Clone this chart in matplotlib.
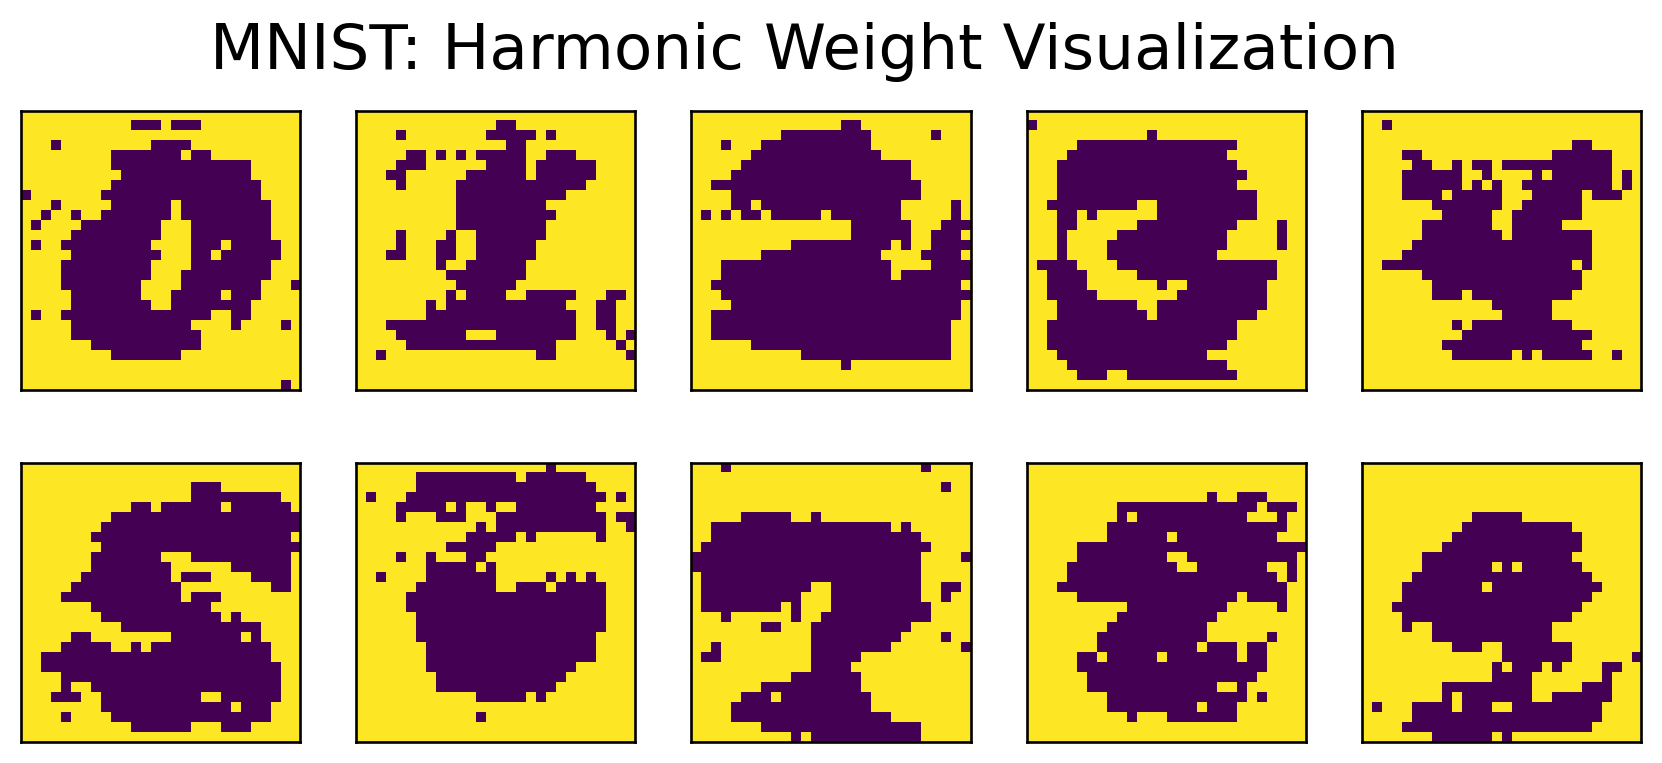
import numpy as np
import matplotlib
matplotlib.use("Agg")
import matplotlib.pyplot as plt

# dark cell runs for each row of the weight maps: (start, stop) in columns, row index is the key
w0 = {1: [(11, 14), (15, 18)], 3: [(3, 4), (13, 17)], 4: [(9, 16), (17, 19)], 5: [(9, 23)], 6: [(10, 23)],
      7: [(9, 24)], 8: [(0, 1), (8, 24)], 9: [(3, 4), (9, 15), (16, 25)], 10: [(2, 3), (5, 6), (8, 15), (16, 25)],
      11: [(1, 2), (6, 14), (17, 25)], 12: [(5, 14), (17, 25)], 13: [(1, 2), (4, 13), (17, 20), (21, 26)],
      14: [(5, 14), (17, 19), (20, 26)], 15: [(4, 13), (17, 25)], 16: [(4, 13), (16, 25)],
      17: [(4, 12), (16, 24), (27, 28)], 18: [(5, 12), (15, 20), (21, 24)], 19: [(5, 13), (15, 23)],
      20: [(1, 2), (4, 19), (21, 23)], 21: [(5, 17), (21, 22), (26, 27)], 22: [(5, 18)], 23: [(7, 18)],
      24: [(9, 16)], 27: [(26, 27)]}
w1 = {1: [(14, 16)], 2: [(4, 5), (13, 18), (19, 20)], 3: [(15, 17)],
      4: [(5, 7), (8, 9), (10, 11), (12, 17), (19, 22)], 5: [(4, 7), (13, 17), (18, 24)],
      6: [(3, 5), (11, 17), (18, 24)], 7: [(4, 5), (10, 23)], 8: [(10, 21)], 9: [(10, 19)], 10: [(10, 20)],
      11: [(10, 19)], 12: [(4, 5), (9, 10), (12, 19)], 13: [(4, 5), (8, 10), (12, 18)],
      14: [(3, 5), (8, 10), (12, 18)], 15: [(8, 9), (11, 17)], 16: [(9, 17)], 17: [(10, 16)],
      18: [(9, 10), (11, 15), (17, 22), (25, 27)], 19: [(7, 8), (9, 21), (24, 26)], 20: [(7, 22), (24, 26)],
      21: [(3, 22), (24, 26)], 22: [(4, 11), (14, 22), (25, 26), (27, 28)], 23: [(5, 20), (26, 27)],
      24: [(2, 3), (18, 20), (27, 28)]}
w2 = {1: [(15, 17)], 2: [(9, 18), (24, 25)], 3: [(3, 4), (7, 18)], 4: [(6, 19)], 5: [(5, 22)], 6: [(4, 22)],
      7: [(2, 23)], 8: [(4, 23)], 9: [(4, 6), (7, 21), (26, 27)],
      10: [(1, 2), (3, 4), (5, 7), (8, 13), (14, 21), (26, 27)], 11: [(16, 22), (25, 28)],
      12: [(16, 22), (24, 27)], 13: [(10, 20), (21, 22), (24, 28)], 14: [(7, 19), (23, 27)],
      15: [(3, 20), (24, 28)], 16: [(3, 20), (21, 28)], 17: [(2, 27)], 18: [(3, 28)], 19: [(4, 27)],
      20: [(2, 27)], 21: [(2, 26)], 22: [(2, 26)], 23: [(6, 26)], 24: [(11, 26)], 25: [(15, 16)]}
w3 = {1: [(0, 1)], 2: [(12, 13)], 3: [(5, 21)], 4: [(4, 20)], 5: [(3, 21)], 6: [(3, 22)], 7: [(3, 21)],
      8: [(3, 23)], 9: [(2, 11), (13, 23)], 10: [(3, 5), (6, 7), (13, 23)], 11: [(3, 5), (11, 21), (25, 26)],
      12: [(3, 4), (9, 20), (25, 26)], 13: [(3, 4), (8, 20), (25, 26)], 14: [(3, 4), (8, 19)],
      15: [(1, 5), (9, 25)], 16: [(2, 6), (11, 25)], 17: [(2, 6), (13, 14), (16, 24)], 18: [(2, 7), (15, 24)],
      19: [(3, 11), (13, 24)], 20: [(3, 12), (13, 23)], 21: [(2, 21)], 22: [(2, 21)], 23: [(2, 20)],
      24: [(3, 18)], 25: [(4, 20)], 26: [(5, 8), (10, 21)]}
w4 = {1: [(2, 3)], 3: [(21, 23)], 4: [(4, 6), (19, 25)], 5: [(5, 7), (9, 10), (11, 13), (14, 25)],
      6: [(4, 10), (12, 13), (17, 18), (19, 25), (26, 27)], 7: [(4, 10), (11, 12), (13, 14), (16, 25), (26, 27)],
      8: [(4, 8), (9, 14), (17, 22), (23, 26)], 9: [(7, 14), (16, 22)], 10: [(8, 13), (15, 22)],
      11: [(6, 13), (15, 20)], 12: [(6, 14), (15, 23)], 13: [(5, 23)], 14: [(4, 23)], 15: [(2, 21), (22, 23)],
      16: [(6, 22)], 17: [(7, 22)], 18: [(7, 10), (11, 21)], 19: [(13, 19)], 20: [(14, 19)],
      21: [(9, 10), (11, 21)], 22: [(10, 23)], 23: [(8, 22)], 24: [(9, 15), (16, 17), (18, 23), (25, 26)]}
w5 = {2: [(17, 20)], 3: [(17, 26)], 4: [(11, 13), (14, 20), (21, 27)], 5: [(9, 28)], 6: [(8, 28)], 7: [(7, 27)],
      8: [(8, 28)], 9: [(7, 14), (17, 27)], 10: [(7, 15), (21, 27)], 11: [(6, 15), (16, 19), (23, 27)],
      12: [(5, 16), (25, 27)], 13: [(4, 16), (17, 20)], 14: [(7, 19)], 15: [(8, 20), (21, 22)], 16: [(10, 24)],
      17: [(5, 7), (15, 22), (23, 24)], 18: [(4, 9), (11, 12), (13, 25)], 19: [(2, 25)], 20: [(2, 26)],
      21: [(4, 26)], 22: [(4, 5), (7, 26)], 23: [(3, 6), (8, 18), (20, 26)], 24: [(8, 21), (22, 25)],
      25: [(4, 5), (9, 25)], 26: [(11, 17), (20, 23)]}
w6 = {0: [(19, 20)], 1: [(6, 16), (17, 23)], 2: [(6, 24)], 3: [(1, 2), (5, 25), (26, 27)],
      4: [(4, 9), (10, 11), (13, 14), (16, 24)], 5: [(4, 5), (8, 11), (14, 25), (26, 28)],
      6: [(12, 13), (14, 25), (27, 28)], 7: [(11, 16), (17, 18), (24, 25)], 8: [(9, 14)],
      9: [(4, 5), (7, 8), (11, 13)], 10: [(7, 12), (13, 14)], 11: [(2, 3), (7, 14), (19, 20), (21, 22), (23, 24)],
      12: [(6, 14), (16, 19), (20, 25)], 13: [(5, 25)], 14: [(5, 25)], 15: [(6, 25)], 16: [(6, 25)], 17: [(6, 24)],
      18: [(7, 24)], 19: [(7, 24)], 20: [(7, 22)], 21: [(8, 21)], 22: [(8, 20)], 23: [(12, 17), (18, 19)],
      25: [(12, 13)]}
w7 = {0: [(3, 4), (23, 24)], 2: [(25, 26)], 5: [(5, 10), (12, 13)], 6: [(2, 20), (21, 22)], 7: [(2, 23)],
      8: [(1, 24)], 9: [(0, 23), (27, 28)], 10: [(0, 23)], 11: [(1, 23)], 12: [(1, 12), (14, 23), (25, 27)],
      13: [(1, 11), (14, 23), (25, 26)], 14: [(1, 9), (10, 11), (14, 24)], 15: [(3, 4), (10, 11), (13, 24)],
      16: [(7, 9), (12, 22)], 17: [(12, 21), (25, 26)], 18: [(2, 3), (12, 20), (27, 28)], 19: [(1, 3), (12, 17)],
      20: [(12, 16)], 21: [(10, 17)], 22: [(7, 17)], 23: [(5, 8), (9, 18)], 24: [(4, 18)], 25: [(4, 20)],
      26: [(7, 23)], 27: [(10, 11), (12, 23)]}
w8 = {3: [(18, 19), (21, 24)], 4: [(9, 23), (24, 27)], 5: [(9, 10), (11, 22), (25, 26)], 6: [(8, 26)],
      7: [(8, 14), (15, 25)], 8: [(5, 28)], 9: [(5, 14), (16, 27)], 10: [(4, 15), (17, 24), (26, 27)],
      11: [(4, 25), (26, 27)], 12: [(3, 26)], 13: [(5, 21), (22, 26)], 14: [(10, 20), (25, 26)], 15: [(9, 19)],
      16: [(8, 18)], 17: [(7, 18), (24, 25)], 18: [(7, 17), (18, 21), (22, 24)],
      19: [(5, 7), (8, 13), (14, 21), (22, 24)], 20: [(5, 24)], 21: [(6, 23)], 22: [(6, 19), (21, 22)],
      23: [(8, 22), (23, 24)], 24: [(8, 17), (18, 21)], 25: [(10, 11), (14, 21)]}
w9 = {5: [(11, 16)], 6: [(10, 21)], 7: [(9, 22)], 8: [(8, 22)], 9: [(6, 21)], 10: [(6, 13), (14, 15), (16, 22)],
      11: [(5, 23)], 12: [(4, 12), (13, 24)], 13: [(4, 23)], 14: [(3, 22)], 15: [(4, 21)], 16: [(4, 5), (7, 19)],
      17: [(7, 19)], 18: [(9, 12), (14, 21)], 19: [(14, 21), (27, 28)],
      20: [(13, 14), (15, 18), (19, 20), (24, 26)], 21: [(13, 17), (24, 25)], 22: [(8, 17), (22, 25)],
      23: [(8, 9), (10, 17), (19, 25)], 24: [(1, 2), (5, 9), (10, 13), (15, 24)], 25: [(5, 24)], 26: [(4, 23)],
      27: [(7, 13), (14, 15)]}

weights = [w0, w1, w2, w3, w4, w5, w6, w7, w8, w9]


def to_image(runs):
    img = np.ones((28, 28))
    for row, spans in runs.items():
        for start, stop in spans:
            img[row, start:stop] = 0
    return img


W, H = 1662, 763
fig, axes = plt.subplots(2, 5, figsize=(W / 200, H / 200), dpi=200)
fig.subplots_adjust(left=21 / W, right=1641 / W, top=1 - 111 / H, bottom=1 - 742 / H, wspace=0.2, hspace=0.258)

for ax, runs in zip(axes.ravel(), weights):
    ax.imshow(to_image(runs), cmap="viridis", vmin=0, vmax=1)
    ax.set_xticks([])
    ax.set_yticks([])
    for spine in ax.spines.values():
        spine.set_linewidth(0.95)

fig.suptitle("MNIST: Harmonic Weight Visualization", fontsize=22.6, x=0.484, y=0.909, va="baseline")
fig.savefig("out.png", dpi=200)
